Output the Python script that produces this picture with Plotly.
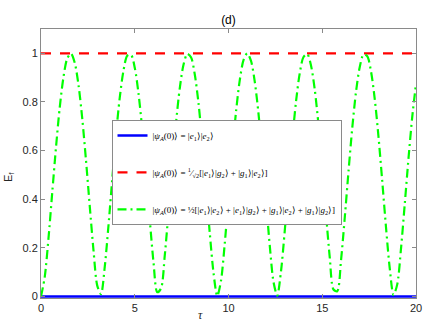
import numpy as np
import plotly.graph_objects as go

# sampling grid of tau (read every 0.2)
tau = np.round(np.linspace(0, 20, 101), 2)

# values
ef_blue = [0.0] * 101
ef_red = [1.0] * 101
ef_green = [
    0.000, 0.081, 0.240, 0.428, 0.614, 0.778, 0.903, 0.979, 0.999, 0.961,
    0.870, 0.732, 0.560, 0.372, 0.190, 0.045, 0.010, 0.122, 0.293, 0.483,
    0.664, 0.818, 0.929, 0.990, 0.994, 0.941, 0.835, 0.686, 0.506, 0.316,
    0.141, 0.018, 0.033, 0.168, 0.348, 0.538, 0.713, 0.856, 0.953, 0.998,
    0.984, 0.914, 0.795, 0.635, 0.451, 0.262, 0.098, 0.002, 0.065, 0.218,
    0.404, 0.591, 0.759, 0.889, 0.972, 1.000, 0.969, 0.884, 0.752, 0.583,
    0.395, 0.210, 0.060, 0.004, 0.104, 0.270, 0.459, 0.643, 0.801, 0.918,
    0.985, 0.997, 0.950, 0.851, 0.706, 0.530, 0.340, 0.161, 0.029, 0.022,
    0.148, 0.324, 0.514, 0.693, 0.841, 0.944, 0.995, 0.988, 0.926, 0.812,
    0.657, 0.474, 0.285, 0.116, 0.007, 0.050, 0.197, 0.380, 0.568, 0.739,
    0.875,
]

names = [
    "|<i>ψ<sub>A</sub></i>(0)⟩ = |<i>e</i><sub>1</sub>⟩|<i>e</i><sub>2</sub>⟩",
    "|<i>ψ<sub>A</sub></i>(0)⟩ = <sup>1</sup>⁄<sub>√2</sub>[|<i>e</i><sub>1</sub>⟩|<i>g</i><sub>2</sub>⟩ + |<i>g</i><sub>1</sub>⟩|<i>e</i><sub>2</sub>⟩]",
    "|<i>ψ<sub>A</sub></i>(0)⟩ = ½[|<i>e</i><sub>1</sub>⟩|<i>e</i><sub>2</sub>⟩ + |<i>e</i><sub>1</sub>⟩|<i>g</i><sub>2</sub>⟩ + |<i>g</i><sub>1</sub>⟩|<i>e</i><sub>2</sub>⟩ + |<i>g</i><sub>1</sub>⟩|<i>g</i><sub>2</sub>⟩]",
]

fig = go.Figure()
fig.add_trace(go.Scatter(x=tau, y=ef_blue, mode="lines", name=names[0], legendgroup="a",
                         line=dict(color="#0000ff", width=2.5)))
fig.add_trace(go.Scatter(x=tau, y=ef_red, mode="lines", name=names[1], legendgroup="b",
                         line=dict(color="#ff0000", width=2.2, dash="10px,9px")))
fig.add_trace(go.Scatter(x=tau, y=ef_green, mode="lines", name=names[2], legendgroup="c",
                         line=dict(color="#00ff00", width=2.2, dash="9px,4px,2px,4px", shape="spline", smoothing=0.8)))

axcommon = dict(showline=True, linecolor="#8a8a8a", linewidth=1, mirror="ticks",
                ticks="inside", ticklen=4, tickcolor="#8a8a8a", showgrid=False, zeroline=False,
                automargin=False,
                tickfont=dict(family="Liberation Sans, Arial", size=11, color="#262626"))

fig.update_layout(
    width=436, height=327, autosize=False,
    margin=dict(l=41, r=20, t=29, b=29, pad=0),
    paper_bgcolor="white", plot_bgcolor="white",
    title=dict(text="(d)", x=0.524, xanchor="center", y=0.94, yanchor="middle",
               font=dict(family="Liberation Sans, Arial", size=12, color="#000000")),
    xaxis=dict(range=[0, 20], tickvals=[0, 5, 10, 15, 20], **axcommon),
    yaxis=dict(range=[-0.006, 1.1], tickvals=[0, 0.2, 0.4, 0.6, 0.8, 1],
               ticktext=["0", "0.2", "0.4", "0.6", "0.8", "1"], **axcommon),
    showlegend=True,
    legend=dict(x=0.188, y=0.662, xanchor="left", yanchor="top",
                bgcolor="white", bordercolor="#8a8a8a", borderwidth=1,
                font=dict(family="Liberation Serif, Times New Roman", size=9, color="#000000"),
                tracegroupgap=18, traceorder="grouped", itemwidth=30),
    annotations=[
        dict(text="<i>τ</i>", xref="paper", yref="paper", x=(200 - 41) / 375, y=-0.065,
             showarrow=False, xanchor="center", yanchor="middle",
             font=dict(family="Liberation Serif, Times New Roman", size=12, color="#262626")),
        dict(text="E<sub>f</sub>", xref="paper", yref="paper", x=-0.085, y=0.45,
             showarrow=False, textangle=-90, xanchor="center", yanchor="middle",
             font=dict(family="Liberation Sans, Arial", size=11, color="#262626")),
    ],
)

fig.write_html("out.html", config={"displayModeBar": False},
               post_script="document.body.style.margin='0';document.body.style.overflow='hidden';")
